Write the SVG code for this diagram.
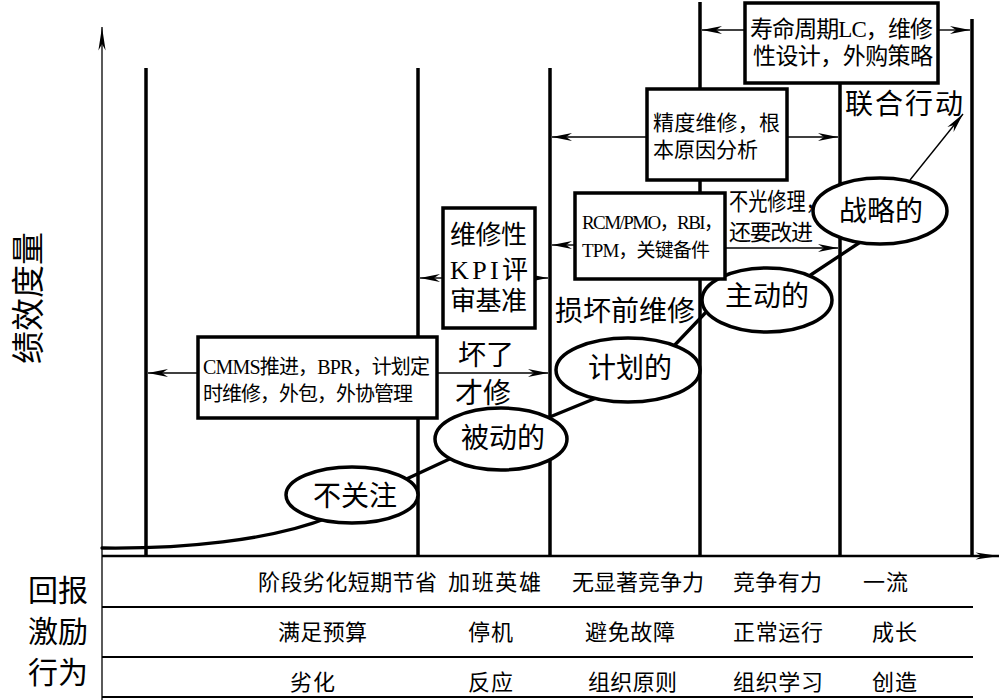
<svg xmlns="http://www.w3.org/2000/svg" width="1001" height="700" viewBox="0 0 1001 700">
<style>
.vl{stroke:#000;stroke-width:3.5;fill:none}
.ax{stroke:#000;stroke-width:1.3;fill:none}
.tl{stroke:#000;stroke-width:2.2;fill:none}
.bx{fill:#fff;stroke:#000;stroke-width:3.5}
.el{fill:#fff;stroke:#000;stroke-width:3.5}
.cn{stroke:#000;stroke-width:1.4;fill:none;marker-end:url(#ah)}
.cv{stroke:#000;stroke-width:3.3;fill:none;stroke-linecap:round}
text{font-family:"Liberation Serif","Noto Sans CJK SC",serif;fill:#000}
.t19{font-size:19px}.t20{font-size:20px}.t21{font-size:21px}.t22{font-size:22px}.t23{font-size:23px}
.t24{font-size:24px}.t26{font-size:26px}.t28{font-size:28px}.t30{font-size:30px}
.mid{text-anchor:middle}
</style>
<defs>
<marker id="ah" viewBox="0 0 20 10" refX="20" refY="5" markerWidth="20" markerHeight="10" markerUnits="userSpaceOnUse" orient="auto"><path d="M0,1 L20,5 L0,9 L6,5 Z" fill="#000"/></marker>
<marker id="axh" viewBox="0 0 26 10" refX="26" refY="5" markerWidth="26" markerHeight="9" markerUnits="userSpaceOnUse" orient="auto"><path d="M0,1 L26,5 L0,9 L7,5 Z" fill="#000"/></marker>
</defs>
<rect x="0" y="0" width="1001" height="700" fill="#fff"/>

<g id="axes">
<line class="ax" x1="102" y1="700" x2="102" y2="27" marker-end="url(#axh)"/>
<line x1="102" y1="556" x2="999" y2="556" stroke="#000" stroke-width="2.4" marker-end="url(#axh)"/>
<line class="tl" x1="102" y1="607" x2="973" y2="607" stroke-width="1.6"/>
<line class="tl" x1="102" y1="657" x2="973" y2="657"/>
<line class="tl" x1="102" y1="697" x2="973" y2="697"/>
<text transform="translate(40,298) rotate(-90)" text-anchor="middle" font-size="33">绩效度量</text>
</g>

<g id="phases">
<line class="vl" x1="146" y1="68" x2="146" y2="556"/>
<line class="vl" x1="418" y1="68" x2="418" y2="556"/>
<line class="vl" x1="550" y1="68" x2="550" y2="556"/>
<line class="vl" x1="700" y1="2" x2="700" y2="556"/>
<line class="vl" x1="840" y1="60" x2="840" y2="556"/>
<line class="vl" x1="972" y1="19" x2="972" y2="556"/>
</g>

<g id="connectors">
<line class="cn" x1="745" y1="30" x2="702" y2="30"/>
<line class="cn" x1="938" y1="30" x2="970" y2="30"/>
<line class="cn" x1="647" y1="137" x2="552" y2="137"/>
<line class="cn" x1="787" y1="137" x2="838" y2="137"/>
<line class="cn" x1="575" y1="245" x2="552" y2="245"/>
<line class="cn" x1="725" y1="248" x2="838" y2="248"/>
<line class="cn" x1="443" y1="278" x2="420" y2="278"/>
<line class="cn" x1="535" y1="278" x2="548" y2="278"/>
<line class="cn" x1="198" y1="373" x2="148" y2="373"/>
<line class="cn" x1="437" y1="373" x2="548" y2="373"/>
<line class="cn" x1="910" y1="180" x2="963" y2="114"/>
<path class="cv" d="M102,548 C180,549 270,541 330,517"/>
<line class="cv" x1="400" y1="482" x2="456" y2="456"/>
<line class="cv" x1="540" y1="421" x2="606" y2="394"/>
<line class="cv" x1="670" y1="350" x2="710" y2="308"/>
<line class="cv" x1="800" y1="282" x2="868" y2="237"/>
</g>

<g id="n-bugz"><ellipse class="el" cx="352" cy="495" rx="66" ry="28"/><text class="t28 mid" x="355" y="506">不关注</text></g>
<g id="n-beidong"><ellipse class="el" cx="501" cy="439" rx="66" ry="31"/><text class="t28 mid" x="503" y="448">被动的</text></g>
<g id="n-jihua"><ellipse class="el" cx="628" cy="370" rx="72" ry="32"/><text class="t28 mid" x="630" y="378">计划的</text></g>
<g id="n-zhudong"><ellipse class="el" cx="767" cy="300" rx="65" ry="32"/><text class="t28 mid" x="767" y="306">主动的</text></g>
<g id="n-zhanlue"><ellipse class="el" cx="880" cy="211" rx="67" ry="33"/><text class="t28 mid" x="881" y="221">战略的</text></g>

<g id="b-lc"><rect class="bx" x="745" y="3" width="193" height="80"/>
<text class="t23" x="750" y="37" textLength="183">寿命周期LC，维修</text>
<text class="t23" x="753" y="64" textLength="180">性设计，外购策略</text></g>
<g id="b-precision"><rect class="bx" x="647" y="89" width="140" height="91"/>
<text class="t21" x="653" y="130" textLength="127">精度维修，根</text>
<text class="t21" x="653" y="157" textLength="105">本原因分析</text></g>
<g id="b-rcm"><rect class="bx" x="575" y="193" width="150" height="86"/>
<text class="t19" x="582" y="229" textLength="141">RCM/PMO，RBI，</text>
<text class="t19" x="582" y="257" textLength="128">TPM，关键备件</text></g>
<g id="b-kpi"><rect class="bx" x="443" y="208" width="92" height="120"/>
<text class="t26" x="450" y="244" textLength="77">维修性</text>
<text class="t26" x="450" y="279" textLength="78">KPI评</text>
<text class="t26" x="450" y="310" textLength="77">审基准</text></g>
<g id="b-cmms"><rect class="bx" x="198" y="337" width="239" height="81"/>
<text class="t20" x="203" y="374" textLength="227">CMMS推进，BPR，计划定</text>
<text class="t20" x="203" y="401" textLength="210">时维修，外包，外协管理</text></g>

<g id="labels">
<text class="t24" transform="translate(729,210) scale(0.8,1)">不光修理，</text>
<text class="t22" x="729" y="240" textLength="84">还要改进</text>
<text class="t28" x="845" y="114" textLength="118">联合行动</text>
<text class="t28" x="555" y="321" textLength="140">损坏前维修</text>
<text class="t28" x="458" y="365">坏了</text>
<text class="t28" x="455" y="403">才修</text>
</g>

<g id="table">
<text class="t30" x="28" y="601" textLength="60">回报</text>
<text class="t30" x="28" y="642" textLength="60">激励</text>
<text class="t30" x="28" y="683" textLength="60">行为</text>
<text class="t22" x="258" y="590" textLength="179">阶段劣化短期节省</text>
<text class="t22" x="448" y="590" textLength="93">加班英雄</text>
<text class="t22" x="572" y="590" textLength="132">无显著竞争力</text>
<text class="t22" x="733" y="590" textLength="89">竞争有力</text>
<text class="t22" x="863" y="590" textLength="45">一流</text>
<text class="t22" x="278" y="640" textLength="89">满足预算</text>
<text class="t22" x="468" y="640" textLength="45">停机</text>
<text class="t22" x="585" y="640" textLength="90">避免故障</text>
<text class="t22" x="733" y="640" textLength="90">正常运行</text>
<text class="t22" x="872" y="640" textLength="45">成长</text>
<text class="t22" x="290" y="690" textLength="45">劣化</text>
<text class="t22" x="468" y="690" textLength="45">反应</text>
<text class="t22" x="588" y="690" textLength="89">组织原则</text>
<text class="t22" x="733" y="690" textLength="90">组织学习</text>
<text class="t22" x="872" y="690" textLength="45">创造</text>
</g>
</svg>
